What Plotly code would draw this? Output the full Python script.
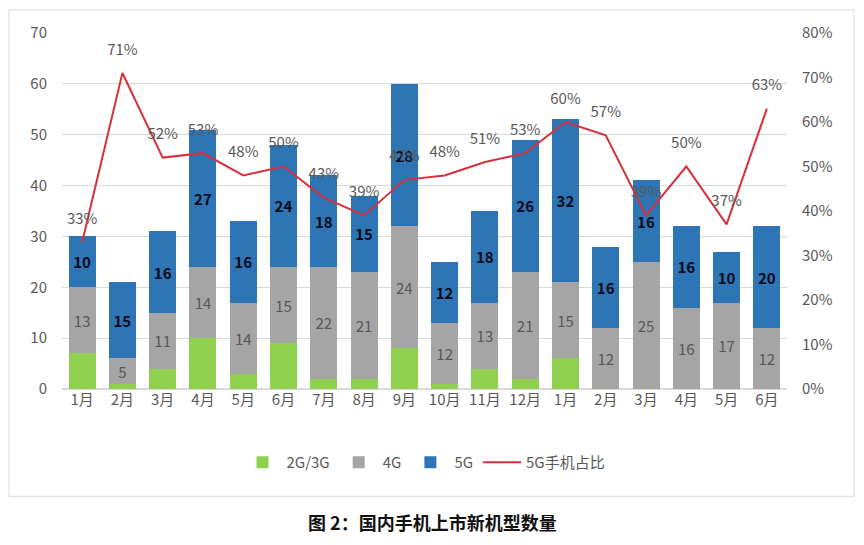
import plotly.graph_objects as go

months = ["1月", "2月", "3月", "4月", "5月", "6月", "7月", "8月", "9月", "10月", "11月", "12月",
          "1月", "2月", "3月", "4月", "5月", "6月"]
g23 = [7, 1, 4, 10, 3, 9, 2, 2, 8, 1, 4, 2, 6, 0, 0, 0, 0, 0]
g4 = [13, 5, 11, 14, 14, 15, 22, 21, 24, 12, 13, 21, 15, 12, 25, 16, 17, 12]
g5 = [10, 15, 16, 27, 16, 24, 18, 15, 28, 12, 18, 26, 32, 16, 16, 16, 10, 20]
ratio = [0.33, 0.71, 0.52, 0.53, 0.48, 0.50, 0.43, 0.39, 0.47, 0.48, 0.51, 0.53,
         0.60, 0.57, 0.39, 0.50, 0.37, 0.63]

x = list(range(len(months)))
FONT = "Noto Sans CJK SC"
GRAY_TXT = "#595959"

fig = go.Figure()
fig.add_trace(go.Bar(x=x, y=g23, name="2G/3G", marker_color="#8fd14f", marker_line_width=0))
fig.add_trace(go.Bar(x=x, y=g4, name="4G", marker_color="#a5a5a5", marker_line_width=0,
                     text=g4, textposition="inside", insidetextanchor="middle", textangle=0,
                     textfont=dict(color=GRAY_TXT, size=15, family=FONT), constraintext="none"))
fig.add_trace(go.Bar(x=x, y=g5, name="5G", marker_color="#2e75b6", marker_line_width=0,
                     text=g5, textposition="inside", insidetextanchor="middle", textangle=0,
                     texttemplate="<b>%{text}</b>",
                     textfont=dict(color="#0a0a1a", size=15, family=FONT), constraintext="none"))
fig.add_trace(go.Scatter(x=x, y=ratio, name="5G手机占比", yaxis="y2", mode="lines+markers+text",
                         line=dict(color="#d7303c", width=2),
                         marker=dict(size=22, color="rgba(0,0,0,0)"),
                         text=[f"{round(r*100)}%" for r in ratio], textposition="top center",
                         textfont=dict(color=GRAY_TXT, size=15, family=FONT)))

fig.update_layout(
    width=864, height=545,
    margin=dict(l=62, r=77, t=33, b=156),
    paper_bgcolor="white", plot_bgcolor="white",
    barmode="stack", bargap=0.33,
    uniformtext=dict(mode=False),
    font=dict(family=FONT, color=GRAY_TXT, size=15),
    showlegend=True,
    legend=dict(orientation="h", x=0.5, xanchor="center", y=-0.16, yanchor="top",
                font=dict(size=15, color=GRAY_TXT), itemwidth=38, traceorder="normal"),
    xaxis=dict(tickmode="array", tickvals=x, ticktext=months, range=[-0.5, len(x) - 0.5],
               showgrid=False, showline=False, ticks="", tickfont=dict(size=15, color=GRAY_TXT)),
    yaxis=dict(range=[0, 70], dtick=10, gridcolor="#d9d9d9", gridwidth=1, zeroline=True,
               zerolinecolor="#d9d9d9", showline=False, ticks="", ticklabelstandoff=14,
               tickfont=dict(size=15, color=GRAY_TXT)),
    yaxis2=dict(range=[0, 0.8], dtick=0.1, tickformat=".0%", overlaying="y", side="right",
                showgrid=False, zeroline=False, showline=False, ticks="", ticklabelstandoff=14,
                tickfont=dict(size=15, color=GRAY_TXT)),
    shapes=[dict(type="rect", xref="paper", yref="paper",
                 x0=(9 - 62) / 725, x1=(854 - 62) / 725,
                 y0=(388 - 495) / 355, y1=(388 - 10) / 355,
                 line=dict(color="#d9d9d9", width=1), fillcolor="rgba(0,0,0,0)", layer="below")],
    annotations=[dict(text="<b>图 2：国内手机上市新机型数量</b>", xref="paper", yref="paper",
                      x=(432 - 62) / 725, y=(388 - 521) / 355, xanchor="center", yanchor="middle",
                      showarrow=False, font=dict(size=18, color="#111111", family=FONT))],
)

fig.write_html("out.html")
